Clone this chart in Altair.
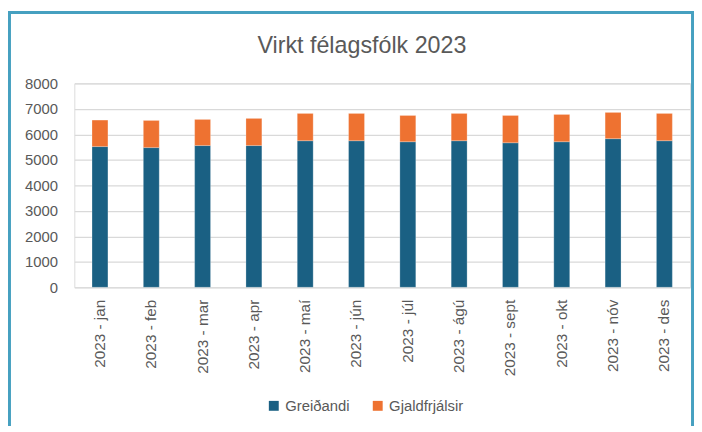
import altair as alt
import pandas as pd

months = ["jan", "feb", "mar", "apr", "maí", "jún", "júl", "ágú", "sept", "okt", "nóv", "des"]
labels = ["2023 - " + m for m in months]
greidandi = [5520, 5480, 5560, 5560, 5750, 5750, 5710, 5750, 5670, 5710, 5830, 5750]
gjaldfrjalsir = [1040, 1065, 1025, 1065, 1070, 1070, 1030, 1070, 1070, 1070, 1030, 1070]
series = ["Greiðandi", "Gjaldfrjálsir"]
colors = ["#1a6083", "#ee7231"]
title_text = "Virkt félagsfólk 2023"

rows = []
for lab, g, f in zip(labels, greidandi, gjaldfrjalsir):
    rows.append({"label": lab, "series": series[0], "value": g, "ord": 0})
    rows.append({"label": lab, "series": series[1], "value": f, "ord": 1})
df = pd.DataFrame(rows)

FONT = "Liberation Sans"
TXT = "#595959"

bars = alt.Chart(df).mark_bar(stroke="white", strokeWidth=0.6, strokeOpacity=0.4).encode(
    x=alt.X("label:N", sort=labels,
            scale=alt.Scale(paddingInner=0.69, paddingOuter=0.345),
            axis=alt.Axis(title=None, labelAngle=270, labelAlign="right", labelBaseline="middle",
                          labelPadding=12, ticks=False, domain=False, grid=False,
                          labelFontSize=15.5, labelColor=TXT, labelFont=FONT)),
    y=alt.Y("value:Q", stack="zero", scale=alt.Scale(domain=[0, 8000], nice=False),
            axis=alt.Axis(title=None, values=list(range(0, 8001, 1000)), format="d",
                          domain=False, ticks=False,
                          labelPadding=17, gridColor="#d9d9d9", gridWidth=1.2,
                          labelFontSize=15, labelColor=TXT, labelFont=FONT)),
    color=alt.Color("series:N", scale=alt.Scale(domain=series, range=colors),
                    legend=alt.Legend(title=None, orient="none", legendX=194, legendY=318,
                                      direction="horizontal", symbolType="square", symbolSize=100,
                                      symbolStrokeWidth=0, labelFontSize=15, labelColor=TXT,
                                      labelFont=FONT, columnPadding=20, labelOffset=4, padding=0)),
    order=alt.Order("ord:Q"),
)

one = pd.DataFrame({"t": [title_text]})
frame_col = "#46a0c0"
left = alt.Chart(one).mark_rule(color=frame_col, strokeWidth=3).encode(
    x=alt.value(-65.5), y=alt.value(-73), y2=alt.value(346))
right = alt.Chart(one).mark_rule(color=frame_col, strokeWidth=3).encode(
    x=alt.value(624.5), y=alt.value(-73), y2=alt.value(346))
top = alt.Chart(one).mark_rule(color=frame_col, strokeWidth=3).encode(
    x=alt.value(-67), x2=alt.value(626), y=alt.value(-71.5))
title = alt.Chart(one).mark_text(font=FONT, fontSize=23.5, color=TXT, align="center",
                                 baseline="alphabetic").encode(
    text="t:N", x=alt.value(290.5), y=alt.value(-31))

chart = alt.layer(bars, left, right, top, title).properties(
    width=622, height=206,
    autosize=alt.AutoSizeParams(type="none"),
    padding={"left": 67, "top": 74, "right": 4, "bottom": 140},
).configure_view(stroke=None).configure(background="white")

chart.save("out.html", embed_options={"renderer": "svg", "actions": False})
